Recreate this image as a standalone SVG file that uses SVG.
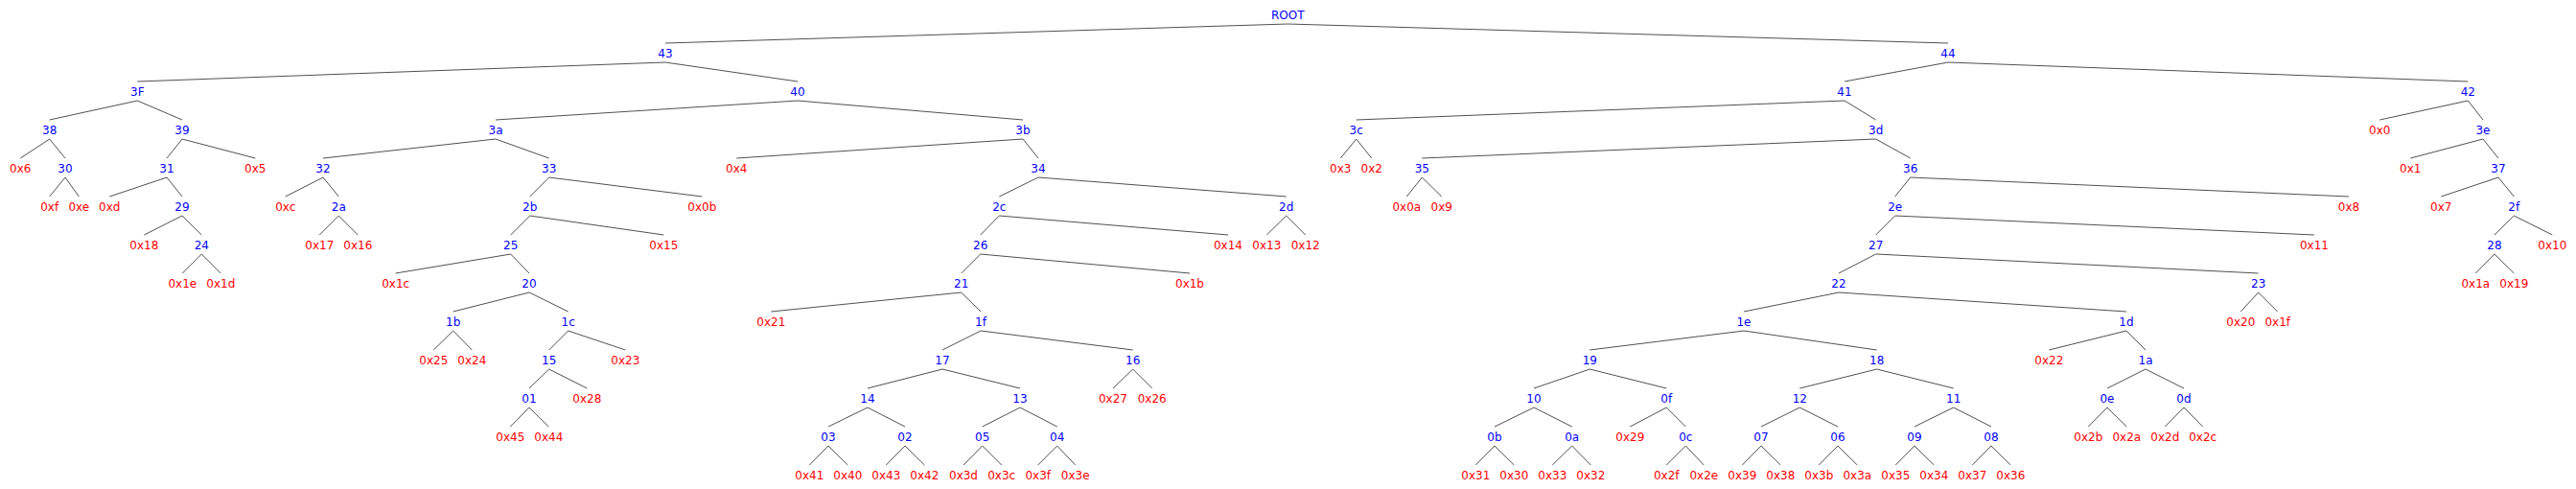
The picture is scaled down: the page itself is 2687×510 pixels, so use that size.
<svg xmlns="http://www.w3.org/2000/svg" width="2687" height="510" viewBox="0 0 2687 510">
<style>
text{font-family:"DejaVu Sans","Liberation Sans",sans-serif;font-size:12px;text-anchor:middle}
.i{fill:#0000ff}
.l{fill:#ff0000}
#edges line{stroke:#505050;stroke-width:1}
</style>
<rect width="2687" height="510" fill="#ffffff"/>
<g id="edges">
<line x1="1343.3" y1="25" x2="694" y2="45"/><line x1="1343.3" y1="25" x2="2032" y2="45"/>
<line x1="694" y1="65" x2="143.3" y2="85"/><line x1="694" y1="65" x2="832" y2="85"/><line x1="2032" y1="65" x2="1924" y2="85"/><line x1="2032" y1="65" x2="2574.3" y2="85"/>
<line x1="143.3" y1="105" x2="51.7" y2="125"/><line x1="143.3" y1="105" x2="190" y2="125"/><line x1="832" y1="105" x2="517" y2="125"/><line x1="832" y1="105" x2="1067" y2="125"/><line x1="1924" y1="105" x2="1414.7" y2="125"/><line x1="1924" y1="105" x2="1956.7" y2="125"/><line x1="2574.3" y1="105" x2="2482.3" y2="125"/><line x1="2574.3" y1="105" x2="2590" y2="125"/>
<line x1="51.7" y1="145" x2="21.3" y2="165"/><line x1="51.7" y1="145" x2="68" y2="165"/><line x1="190" y1="145" x2="174" y2="165"/><line x1="190" y1="145" x2="266.3" y2="165"/><line x1="517" y1="145" x2="337" y2="165"/><line x1="517" y1="145" x2="572.7" y2="165"/><line x1="1067" y1="145" x2="768.3" y2="165"/><line x1="1067" y1="145" x2="1083" y2="165"/><line x1="1414.7" y1="145" x2="1398.3" y2="165"/><line x1="1414.7" y1="145" x2="1430.7" y2="165"/><line x1="1956.7" y1="145" x2="1483.3" y2="165"/><line x1="1956.7" y1="145" x2="1992.7" y2="165"/><line x1="2590" y1="145" x2="2514.3" y2="165"/><line x1="2590" y1="145" x2="2606" y2="165"/>
<line x1="68" y1="185" x2="51.7" y2="205"/><line x1="68" y1="185" x2="82.3" y2="205"/><line x1="174" y1="185" x2="114.3" y2="205"/><line x1="174" y1="185" x2="190" y2="205"/><line x1="337" y1="185" x2="297.7" y2="205"/><line x1="337" y1="185" x2="353.3" y2="205"/><line x1="572.7" y1="185" x2="552.7" y2="205"/><line x1="572.7" y1="185" x2="732.3" y2="205"/><line x1="1083" y1="185" x2="1042.3" y2="205"/><line x1="1083" y1="185" x2="1341.7" y2="205"/><line x1="1483.3" y1="185" x2="1467.3" y2="205"/><line x1="1483.3" y1="185" x2="1503.7" y2="205"/><line x1="1992.7" y1="185" x2="1976.7" y2="205"/><line x1="1992.7" y1="185" x2="2450" y2="205"/><line x1="2606" y1="185" x2="2546.3" y2="205"/><line x1="2606" y1="185" x2="2622.3" y2="205"/>
<line x1="190" y1="225" x2="150.3" y2="245"/><line x1="190" y1="225" x2="210.3" y2="245"/><line x1="353.3" y1="225" x2="333.3" y2="245"/><line x1="353.3" y1="225" x2="373.3" y2="245"/><line x1="552.7" y1="225" x2="532.7" y2="245"/><line x1="552.7" y1="225" x2="692.3" y2="245"/><line x1="1042.3" y1="225" x2="1022.7" y2="245"/><line x1="1042.3" y1="225" x2="1281" y2="245"/><line x1="1341.7" y1="225" x2="1321.3" y2="245"/><line x1="1341.7" y1="225" x2="1361.7" y2="245"/><line x1="1976.7" y1="225" x2="1956.7" y2="245"/><line x1="1976.7" y1="225" x2="2414" y2="245"/><line x1="2622.3" y1="225" x2="2602" y2="245"/><line x1="2622.3" y1="225" x2="2662.3" y2="245"/>
<line x1="210.3" y1="265" x2="190.3" y2="285"/><line x1="210.3" y1="265" x2="230.3" y2="285"/><line x1="532.7" y1="265" x2="412.7" y2="285"/><line x1="532.7" y1="265" x2="552" y2="285"/><line x1="1022.7" y1="265" x2="1002.7" y2="285"/><line x1="1022.7" y1="265" x2="1241" y2="285"/><line x1="1956.7" y1="265" x2="1918" y2="285"/><line x1="1956.7" y1="265" x2="2355.7" y2="285"/><line x1="2602" y1="265" x2="2582.3" y2="285"/><line x1="2602" y1="265" x2="2622.3" y2="285"/>
<line x1="552" y1="305" x2="472.7" y2="325"/><line x1="552" y1="305" x2="592.7" y2="325"/><line x1="1002.7" y1="305" x2="804.3" y2="325"/><line x1="1002.7" y1="305" x2="1023" y2="325"/><line x1="1918" y1="305" x2="1819" y2="325"/><line x1="1918" y1="305" x2="2218" y2="325"/><line x1="2355.7" y1="305" x2="2337.3" y2="325"/><line x1="2355.7" y1="305" x2="2375.7" y2="325"/>
<line x1="472.7" y1="345" x2="452.3" y2="365"/><line x1="472.7" y1="345" x2="492.3" y2="365"/><line x1="592.7" y1="345" x2="572.7" y2="365"/><line x1="592.7" y1="345" x2="652.3" y2="365"/><line x1="1023" y1="345" x2="983" y2="365"/><line x1="1023" y1="345" x2="1181.7" y2="365"/><line x1="1819" y1="345" x2="1658.3" y2="365"/><line x1="1819" y1="345" x2="1957.7" y2="365"/><line x1="2218" y1="345" x2="2137.3" y2="365"/><line x1="2218" y1="345" x2="2238" y2="365"/>
<line x1="572.7" y1="385" x2="552" y2="405"/><line x1="572.7" y1="385" x2="612.3" y2="405"/><line x1="983" y1="385" x2="905" y2="405"/><line x1="983" y1="385" x2="1064" y2="405"/><line x1="1181.7" y1="385" x2="1161" y2="405"/><line x1="1181.7" y1="385" x2="1201.7" y2="405"/><line x1="1658.3" y1="385" x2="1600" y2="405"/><line x1="1658.3" y1="385" x2="1738.3" y2="405"/><line x1="1957.7" y1="385" x2="1877.3" y2="405"/><line x1="1957.7" y1="385" x2="2037.7" y2="405"/><line x1="2238" y1="385" x2="2198" y2="405"/><line x1="2238" y1="385" x2="2278" y2="405"/>
<line x1="552" y1="425" x2="532.3" y2="445"/><line x1="552" y1="425" x2="572.3" y2="445"/><line x1="905" y1="425" x2="864" y2="445"/><line x1="905" y1="425" x2="944" y2="445"/><line x1="1064" y1="425" x2="1024.7" y2="445"/><line x1="1064" y1="425" x2="1102.7" y2="445"/><line x1="1600" y1="425" x2="1559" y2="445"/><line x1="1600" y1="425" x2="1639.7" y2="445"/><line x1="1738.3" y1="425" x2="1700.3" y2="445"/><line x1="1738.3" y1="425" x2="1758.3" y2="445"/><line x1="1877.3" y1="425" x2="1837" y2="445"/><line x1="1877.3" y1="425" x2="1917" y2="445"/><line x1="2037.7" y1="425" x2="1997" y2="445"/><line x1="2037.7" y1="425" x2="2077" y2="445"/><line x1="2198" y1="425" x2="2178.3" y2="445"/><line x1="2198" y1="425" x2="2218.3" y2="445"/><line x1="2278" y1="425" x2="2258.3" y2="445"/><line x1="2278" y1="425" x2="2297.7" y2="445"/>
<line x1="864" y1="465" x2="844.3" y2="485"/><line x1="864" y1="465" x2="884.3" y2="485"/><line x1="944" y1="465" x2="924.3" y2="485"/><line x1="944" y1="465" x2="964.3" y2="485"/><line x1="1024.7" y1="465" x2="1005" y2="485"/><line x1="1024.7" y1="465" x2="1044.7" y2="485"/><line x1="1102.7" y1="465" x2="1082.7" y2="485"/><line x1="1102.7" y1="465" x2="1121.7" y2="485"/><line x1="1559" y1="465" x2="1539.3" y2="485"/><line x1="1559" y1="465" x2="1579.3" y2="485"/><line x1="1639.7" y1="465" x2="1619.3" y2="485"/><line x1="1639.7" y1="465" x2="1659.3" y2="485"/><line x1="1758.3" y1="465" x2="1738.3" y2="485"/><line x1="1758.3" y1="465" x2="1777.3" y2="485"/><line x1="1837" y1="465" x2="1817.3" y2="485"/><line x1="1837" y1="465" x2="1857.3" y2="485"/><line x1="1917" y1="465" x2="1897.3" y2="485"/><line x1="1917" y1="465" x2="1937.3" y2="485"/><line x1="1997" y1="465" x2="1977.3" y2="485"/><line x1="1997" y1="465" x2="2017.3" y2="485"/><line x1="2077" y1="465" x2="2057.3" y2="485"/><line x1="2077" y1="465" x2="2097.3" y2="485"/>
</g>
<g id="n_ROOT"><text class="i" x="1343.3" y="20">ROOT</text></g>
<g id="n_43"><text class="i" x="694" y="60">43</text></g>
<g id="n_44"><text class="i" x="2032" y="60">44</text></g>
<g id="n_3F"><text class="i" x="143.3" y="100">3F</text></g>
<g id="n_40"><text class="i" x="832" y="100">40</text></g>
<g id="n_41"><text class="i" x="1924" y="100">41</text></g>
<g id="n_42"><text class="i" x="2574.3" y="100">42</text></g>
<g id="n_38"><text class="i" x="51.7" y="140">38</text></g>
<g id="n_39"><text class="i" x="190" y="140">39</text></g>
<g id="n_3a"><text class="i" x="517" y="140">3a</text></g>
<g id="n_3b"><text class="i" x="1067" y="140">3b</text></g>
<g id="n_3c"><text class="i" x="1414.7" y="140">3c</text></g>
<g id="n_3d"><text class="i" x="1956.7" y="140">3d</text></g>
<g id="n_0x0"><text class="l" x="2482.3" y="140">0x0</text></g>
<g id="n_3e"><text class="i" x="2590" y="140">3e</text></g>
<g id="n_0x6"><text class="l" x="21.3" y="180">0x6</text></g>
<g id="n_30"><text class="i" x="68" y="180">30</text></g>
<g id="n_31"><text class="i" x="174" y="180">31</text></g>
<g id="n_0x5"><text class="l" x="266.3" y="180">0x5</text></g>
<g id="n_32"><text class="i" x="337" y="180">32</text></g>
<g id="n_33"><text class="i" x="572.7" y="180">33</text></g>
<g id="n_0x4"><text class="l" x="768.3" y="180">0x4</text></g>
<g id="n_34"><text class="i" x="1083" y="180">34</text></g>
<g id="n_0x3"><text class="l" x="1398.3" y="180">0x3</text></g>
<g id="n_0x2"><text class="l" x="1430.7" y="180">0x2</text></g>
<g id="n_35"><text class="i" x="1483.3" y="180">35</text></g>
<g id="n_36"><text class="i" x="1992.7" y="180">36</text></g>
<g id="n_0x1"><text class="l" x="2514.3" y="180">0x1</text></g>
<g id="n_37"><text class="i" x="2606" y="180">37</text></g>
<g id="n_0xf"><text class="l" x="51.7" y="220">0xf</text></g>
<g id="n_0xe"><text class="l" x="82.3" y="220">0xe</text></g>
<g id="n_0xd"><text class="l" x="114.3" y="220">0xd</text></g>
<g id="n_29"><text class="i" x="190" y="220">29</text></g>
<g id="n_0xc"><text class="l" x="297.7" y="220">0xc</text></g>
<g id="n_2a"><text class="i" x="353.3" y="220">2a</text></g>
<g id="n_2b"><text class="i" x="552.7" y="220">2b</text></g>
<g id="n_0x0b"><text class="l" x="732.3" y="220">0x0b</text></g>
<g id="n_2c"><text class="i" x="1042.3" y="220">2c</text></g>
<g id="n_2d"><text class="i" x="1341.7" y="220">2d</text></g>
<g id="n_0x0a"><text class="l" x="1467.3" y="220">0x0a</text></g>
<g id="n_0x9"><text class="l" x="1503.7" y="220">0x9</text></g>
<g id="n_2e"><text class="i" x="1976.7" y="220">2e</text></g>
<g id="n_0x8"><text class="l" x="2450" y="220">0x8</text></g>
<g id="n_0x7"><text class="l" x="2546.3" y="220">0x7</text></g>
<g id="n_2f"><text class="i" x="2622.3" y="220">2f</text></g>
<g id="n_0x18"><text class="l" x="150.3" y="260">0x18</text></g>
<g id="n_24"><text class="i" x="210.3" y="260">24</text></g>
<g id="n_0x17"><text class="l" x="333.3" y="260">0x17</text></g>
<g id="n_0x16"><text class="l" x="373.3" y="260">0x16</text></g>
<g id="n_25"><text class="i" x="532.7" y="260">25</text></g>
<g id="n_0x15"><text class="l" x="692.3" y="260">0x15</text></g>
<g id="n_26"><text class="i" x="1022.7" y="260">26</text></g>
<g id="n_0x14"><text class="l" x="1281" y="260">0x14</text></g>
<g id="n_0x13"><text class="l" x="1321.3" y="260">0x13</text></g>
<g id="n_0x12"><text class="l" x="1361.7" y="260">0x12</text></g>
<g id="n_27"><text class="i" x="1956.7" y="260">27</text></g>
<g id="n_0x11"><text class="l" x="2414" y="260">0x11</text></g>
<g id="n_28"><text class="i" x="2602" y="260">28</text></g>
<g id="n_0x10"><text class="l" x="2662.3" y="260">0x10</text></g>
<g id="n_0x1e"><text class="l" x="190.3" y="300">0x1e</text></g>
<g id="n_0x1d"><text class="l" x="230.3" y="300">0x1d</text></g>
<g id="n_0x1c"><text class="l" x="412.7" y="300">0x1c</text></g>
<g id="n_20"><text class="i" x="552" y="300">20</text></g>
<g id="n_21"><text class="i" x="1002.7" y="300">21</text></g>
<g id="n_0x1b"><text class="l" x="1241" y="300">0x1b</text></g>
<g id="n_22"><text class="i" x="1918" y="300">22</text></g>
<g id="n_23"><text class="i" x="2355.7" y="300">23</text></g>
<g id="n_0x1a"><text class="l" x="2582.3" y="300">0x1a</text></g>
<g id="n_0x19"><text class="l" x="2622.3" y="300">0x19</text></g>
<g id="n_1b"><text class="i" x="472.7" y="340">1b</text></g>
<g id="n_1c"><text class="i" x="592.7" y="340">1c</text></g>
<g id="n_0x21"><text class="l" x="804.3" y="340">0x21</text></g>
<g id="n_1f"><text class="i" x="1023" y="340">1f</text></g>
<g id="n_1e"><text class="i" x="1819" y="340">1e</text></g>
<g id="n_1d"><text class="i" x="2218" y="340">1d</text></g>
<g id="n_0x20"><text class="l" x="2337.3" y="340">0x20</text></g>
<g id="n_0x1f"><text class="l" x="2375.7" y="340">0x1f</text></g>
<g id="n_0x25"><text class="l" x="452.3" y="380">0x25</text></g>
<g id="n_0x24"><text class="l" x="492.3" y="380">0x24</text></g>
<g id="n_15"><text class="i" x="572.7" y="380">15</text></g>
<g id="n_0x23"><text class="l" x="652.3" y="380">0x23</text></g>
<g id="n_17"><text class="i" x="983" y="380">17</text></g>
<g id="n_16"><text class="i" x="1181.7" y="380">16</text></g>
<g id="n_19"><text class="i" x="1658.3" y="380">19</text></g>
<g id="n_18"><text class="i" x="1957.7" y="380">18</text></g>
<g id="n_0x22"><text class="l" x="2137.3" y="380">0x22</text></g>
<g id="n_1a"><text class="i" x="2238" y="380">1a</text></g>
<g id="n_01"><text class="i" x="552" y="420">01</text></g>
<g id="n_0x28"><text class="l" x="612.3" y="420">0x28</text></g>
<g id="n_14"><text class="i" x="905" y="420">14</text></g>
<g id="n_13"><text class="i" x="1064" y="420">13</text></g>
<g id="n_0x27"><text class="l" x="1161" y="420">0x27</text></g>
<g id="n_0x26"><text class="l" x="1201.7" y="420">0x26</text></g>
<g id="n_10"><text class="i" x="1600" y="420">10</text></g>
<g id="n_0f"><text class="i" x="1738.3" y="420">0f</text></g>
<g id="n_12"><text class="i" x="1877.3" y="420">12</text></g>
<g id="n_11"><text class="i" x="2037.7" y="420">11</text></g>
<g id="n_0e"><text class="i" x="2198" y="420">0e</text></g>
<g id="n_0d"><text class="i" x="2278" y="420">0d</text></g>
<g id="n_0x45"><text class="l" x="532.3" y="460">0x45</text></g>
<g id="n_0x44"><text class="l" x="572.3" y="460">0x44</text></g>
<g id="n_03"><text class="i" x="864" y="460">03</text></g>
<g id="n_02"><text class="i" x="944" y="460">02</text></g>
<g id="n_05"><text class="i" x="1024.7" y="460">05</text></g>
<g id="n_04"><text class="i" x="1102.7" y="460">04</text></g>
<g id="n_0b"><text class="i" x="1559" y="460">0b</text></g>
<g id="n_0a"><text class="i" x="1639.7" y="460">0a</text></g>
<g id="n_0x29"><text class="l" x="1700.3" y="460">0x29</text></g>
<g id="n_0c"><text class="i" x="1758.3" y="460">0c</text></g>
<g id="n_07"><text class="i" x="1837" y="460">07</text></g>
<g id="n_06"><text class="i" x="1917" y="460">06</text></g>
<g id="n_09"><text class="i" x="1997" y="460">09</text></g>
<g id="n_08"><text class="i" x="2077" y="460">08</text></g>
<g id="n_0x2b"><text class="l" x="2178.3" y="460">0x2b</text></g>
<g id="n_0x2a"><text class="l" x="2218.3" y="460">0x2a</text></g>
<g id="n_0x2d"><text class="l" x="2258.3" y="460">0x2d</text></g>
<g id="n_0x2c"><text class="l" x="2297.7" y="460">0x2c</text></g>
<g id="n_0x41"><text class="l" x="844.3" y="500">0x41</text></g>
<g id="n_0x40"><text class="l" x="884.3" y="500">0x40</text></g>
<g id="n_0x43"><text class="l" x="924.3" y="500">0x43</text></g>
<g id="n_0x42"><text class="l" x="964.3" y="500">0x42</text></g>
<g id="n_0x3d"><text class="l" x="1005" y="500">0x3d</text></g>
<g id="n_0x3c"><text class="l" x="1044.7" y="500">0x3c</text></g>
<g id="n_0x3f"><text class="l" x="1082.7" y="500">0x3f</text></g>
<g id="n_0x3e"><text class="l" x="1121.7" y="500">0x3e</text></g>
<g id="n_0x31"><text class="l" x="1539.3" y="500">0x31</text></g>
<g id="n_0x30"><text class="l" x="1579.3" y="500">0x30</text></g>
<g id="n_0x33"><text class="l" x="1619.3" y="500">0x33</text></g>
<g id="n_0x32"><text class="l" x="1659.3" y="500">0x32</text></g>
<g id="n_0x2f"><text class="l" x="1738.3" y="500">0x2f</text></g>
<g id="n_0x2e"><text class="l" x="1777.3" y="500">0x2e</text></g>
<g id="n_0x39"><text class="l" x="1817.3" y="500">0x39</text></g>
<g id="n_0x38"><text class="l" x="1857.3" y="500">0x38</text></g>
<g id="n_0x3b"><text class="l" x="1897.3" y="500">0x3b</text></g>
<g id="n_0x3a"><text class="l" x="1937.3" y="500">0x3a</text></g>
<g id="n_0x35"><text class="l" x="1977.3" y="500">0x35</text></g>
<g id="n_0x34"><text class="l" x="2017.3" y="500">0x34</text></g>
<g id="n_0x37"><text class="l" x="2057.3" y="500">0x37</text></g>
<g id="n_0x36"><text class="l" x="2097.3" y="500">0x36</text></g>
</svg>
